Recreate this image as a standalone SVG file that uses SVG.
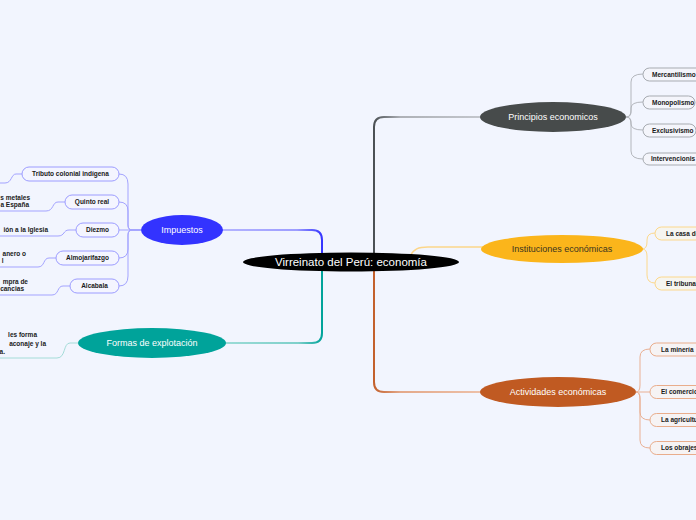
<svg xmlns="http://www.w3.org/2000/svg" width="696" height="520" viewBox="0 0 696 520">
<defs>
<linearGradient id="gP" gradientUnits="userSpaceOnUse" x1="374" y1="0" x2="480" y2="0"><stop offset="0" stop-color="#4b5054"/><stop offset="0.25" stop-color="#aeb1b7"/><stop offset="1" stop-color="#c3c6cc"/></linearGradient>
<linearGradient id="gA" gradientUnits="userSpaceOnUse" x1="374" y1="0" x2="480" y2="0"><stop offset="0" stop-color="#c3602c"/><stop offset="0.25" stop-color="#e4a98a"/><stop offset="1" stop-color="#edc0a8"/></linearGradient>
<linearGradient id="gI" gradientUnits="userSpaceOnUse" x1="322" y1="0" x2="222" y2="0"><stop offset="0" stop-color="#3535ff"/><stop offset="0.25" stop-color="#9d9dff"/><stop offset="1" stop-color="#b4b4ff"/></linearGradient>
<linearGradient id="gF" gradientUnits="userSpaceOnUse" x1="322" y1="0" x2="227" y2="0"><stop offset="0" stop-color="#00a39a"/><stop offset="0.25" stop-color="#7fd0cb"/><stop offset="1" stop-color="#9bdbd6"/></linearGradient>
</defs>
<style>
.bg{fill:#f2f5fe}
.main{stroke-width:2;fill:none}
.c{fill:none;stroke-width:1}
.ci{stroke:#a3a3ff}
.cp{stroke:#b3b6bc}
.cy{stroke:#fcd88c}
.co{stroke:#e9b094}
.ct{stroke:#a4dcd8}
.t{font-family:"Liberation Sans",Arial,sans-serif}
.nt{font-size:9px;text-anchor:middle}
.bx{font-size:6.5px;font-weight:bold;fill:#1a1a1a}
.gc{font-size:6.5px;font-weight:bold;fill:#1a1a1a;text-anchor:end}
.bI{fill:#f4f5ff;stroke:#9c9cff;stroke-width:1}
.bP{fill:#f4f5fb;stroke:#a7abb1;stroke-width:1}
.bY{fill:#f6f5f0;stroke:#fcd88c;stroke-width:1}
.bO{fill:#f6f3f4;stroke:#e9ad8c;stroke-width:1}
</style>
<rect class="bg" x="0" y="0" width="696" height="520"/>
<g id="connectors">
<path class="main" stroke="url(#gP)" d="M374,254 V127 Q374,117 384,117 H482"/>
<path class="main" stroke="url(#gA)" d="M374,268 V382 Q374,392 384,392 H482"/>
<path class="main" stroke="url(#gI)" d="M322,254 V240 Q322,230 312,230 H220"/>
<path class="main" stroke="url(#gF)" d="M322,268 V333 Q322,343 312,343 H225"/>
<path fill="none" stroke="#fcd68a" stroke-width="1.5" d="M410,256 C414,249 418,247 428,247 H483"/>
<path class="c ci" d="M141,230 H132 Q128,230 128,225 V184 Q128,174 119,174"/>
<path class="c ci" d="M141,230 H132 Q128,230 128,225 V211 Q128,202 119,202"/>
<path class="c ci" d="M141,230 H119"/>
<path class="c ci" d="M141,230 H132 Q128,230 128,235 V249 Q128,258 119,258"/>
<path class="c ci" d="M141,230 H132 Q128,230 128,235 V276 Q128,286 119,286"/>
<path class="c ci" d="M22,174 H16 C11,174 12,183 5,183 H0"/>
<path class="c ci" d="M65,202 H58 C52,202 54,211 46,211 H0"/>
<path class="c ci" d="M76,230 H69 C63,230 65,236 58,236 H0"/>
<path class="c ci" d="M56,258 H49 C43,258 45,267 38,267 H0"/>
<path class="c ci" d="M70,286 H63 C57,286 59,295 52,295 H0"/>
<path class="c ct" d="M78,343 H70 C63,343 66,358 57,358 H0"/>
<path class="c cp" d="M626,117 Q631,117 631,110 V82 Q631,74 643,74"/>
<path class="c cp" d="M626,117 Q631,117 631,112 V108 Q631,102 643,102"/>
<path class="c cp" d="M626,117 Q631,117 631,122 V124 Q631,130 643,130"/>
<path class="c cp" d="M626,117 Q631,117 631,124 V151 Q631,159 643,159"/>
<path class="c cy" d="M642,249 Q647,249 647,242 V240 Q647,233 655,233"/>
<path class="c cy" d="M642,249 Q647,249 647,256 V275 Q647,283 655,283"/>
<path class="c co" d="M636,392 Q640,392 640,385 V357 Q640,349 650,349"/>
<path class="c co" d="M636,392 H650"/>
<path class="c co" d="M636,392 Q640,392 640,399 V412 Q640,420 650,420"/>
<path class="c co" d="M636,392 Q640,392 640,399 V440 Q640,448 650,448"/>
</g>
<g id="center">
<ellipse cx="351" cy="262" rx="108" ry="9.5" fill="#000"/>
<text class="t" x="351" y="266" font-size="11.5" fill="#fff" text-anchor="middle">Virreinato del Perú: economía</text>
</g>
<g id="principios">
<ellipse cx="553" cy="117" rx="73" ry="15" fill="#474b4b"/>
<text class="t nt" x="553" y="120" fill="#fff">Principios economicos</text>
</g>
<g id="instituciones">
<ellipse cx="562" cy="249" rx="81" ry="14" fill="#fbb51b"/>
<text class="t nt" x="562" y="252" fill="#3a3420">Instituciones económicas</text>
</g>
<g id="actividades">
<ellipse cx="558" cy="392" rx="78" ry="15" fill="#c05a22"/>
<text class="t nt" x="558" y="395" fill="#fff">Actividades económicas</text>
</g>
<g id="impuestos">
<ellipse cx="182" cy="230" rx="41" ry="15" fill="#3333ff"/>
<text class="t nt" x="182" y="233" fill="#fff">Impuestos</text>
</g>
<g id="formas">
<ellipse cx="152" cy="343" rx="74" ry="15" fill="#00a39a"/>
<text class="t nt" x="152" y="346" fill="#fff">Formas de explotación</text>
</g>
<g id="tributo"><rect class="bI" x="22" y="167" width="97" height="14" rx="7"/><text class="t bx" x="70.5" y="176.3" text-anchor="middle">Tributo colonial indígena</text></g>
<g id="quinto"><rect class="bI" x="65" y="195" width="54" height="14" rx="7"/><text class="t bx" x="92" y="204.3" text-anchor="middle">Quinto real</text></g>
<g id="diezmo"><rect class="bI" x="76" y="223" width="43" height="14" rx="7"/><text class="t bx" x="97.5" y="232.3" text-anchor="middle">Diezmo</text></g>
<g id="almojarifazgo"><rect class="bI" x="56" y="251" width="63" height="14" rx="7"/><text class="t bx" x="87.5" y="260.3" text-anchor="middle">Almojarifazgo</text></g>
<g id="alcabala"><rect class="bI" x="70" y="279" width="49" height="14" rx="7"/><text class="t bx" x="94.5" y="288.3" text-anchor="middle">Alcabala</text></g>
<g id="quinto-desc"><text class="t gc" x="30" y="199.5">s metales</text><text class="t gc" x="29" y="206.5">a España</text></g>
<g id="diezmo-desc"><text class="t gc" x="48" y="232">ión a la Iglesia</text></g>
<g id="almo-desc"><text class="t gc" x="26" y="256">anero o</text><text class="t gc" x="3.5" y="263">l</text></g>
<g id="alcabala-desc"><text class="t gc" x="28" y="284">mpra de</text><text class="t gc" x="24" y="291">cancias</text></g>
<g id="formas-desc"><text class="t gc" x="37" y="336.5" font-size="7.5">les forma</text><text class="t gc" x="46" y="345.5" font-size="7.5">aconaje y la</text><text class="t gc" x="5" y="354" font-size="7.5">a.</text></g>
<g id="mercantilismo"><rect class="bP" x="643" y="68" width="80" height="13" rx="6.5"/><text class="t bx" x="652" y="76.8">Mercantilismo</text></g>
<g id="monopolismo"><rect class="bP" x="643" y="96" width="52" height="13" rx="6.5"/><text class="t bx" x="652" y="104.8">Monopolismo</text></g>
<g id="exclusivismo"><rect class="bP" x="643" y="124" width="53" height="13" rx="6.5"/><text class="t bx" x="652" y="132.8">Exclusivismo</text></g>
<g id="intervencionismo"><rect class="bP" x="643" y="153" width="80" height="12" rx="6"/><text class="t bx" x="651" y="161" font-size="5.5">Intervencionis</text></g>
<g id="casa"><rect class="bY" x="655" y="227" width="70" height="13" rx="6.5"/><text class="t bx" x="666" y="235.8">La casa de</text></g>
<g id="tribunal"><rect class="bY" x="655" y="277" width="70" height="13" rx="6.5"/><text class="t bx" x="666" y="285.8">El tribunal</text></g>
<g id="mineria"><rect class="bO" x="650" y="343" width="70" height="13" rx="6.5"/><text class="t bx" x="661" y="351.8">La minería</text></g>
<g id="comercio"><rect class="bO" x="650" y="385.5" width="70" height="13" rx="6.5"/><text class="t bx" x="661" y="394.3">El comercio</text></g>
<g id="agricultura"><rect class="bO" x="650" y="413.5" width="70" height="13" rx="6.5"/><text class="t bx" x="661" y="422.3">La agricultura</text></g>
<g id="obrajes"><rect class="bO" x="650" y="441.5" width="70" height="13" rx="6.5"/><text class="t bx" x="661" y="450.3">Los obrajes</text></g>
</svg>
